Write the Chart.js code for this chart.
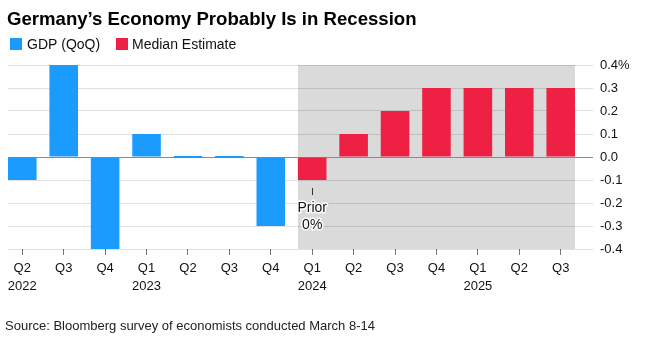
<!DOCTYPE html>
<html>
<head>
<meta charset="utf-8">
<script src="https://cdn.jsdelivr.net/npm/chart.js@4.4.1/dist/chart.umd.min.js"></script>
<style>
  html, body { margin: 0; padding: 0; background: #fff; }
  #wrap { width: 645px; height: 344px; position: relative; }
</style>
</head>
<body>
<div id="wrap"><canvas id="chart"></canvas></div>
<script>
// quarters along the bottom, year shown under the first quarter of each year
var quarters = ['Q2', 'Q3', 'Q4', 'Q1', 'Q2', 'Q3', 'Q4', 'Q1', 'Q2', 'Q3', 'Q4', 'Q1', 'Q2', 'Q3'];
var years = ['2022', '', '', '2023', '', '', '', '2024', '', '', '', '2025', '', ''];
// GDP (QoQ), Q2 2022 - Q4 2023
var gdp = [-0.1, 0.4, -0.4, 0.1, 0.0, 0.0, -0.3];
// median estimate, Q1 2024 - Q3 2025
var estimate = [-0.1, 0.1, 0.2, 0.3, 0.3, 0.3, 0.3];
var yTicks = [0.4, 0.3, 0.2, 0.1, 0.0, -0.1, -0.2, -0.3, -0.4];

var BLUE = '#1b9bfd';
var RED = '#ee2145';
var FONT = '"Liberation Sans", Arial, sans-serif';

var gdpData = gdp.map(function (v, i) { return { x: i, y: v }; });
var estData = estimate.map(function (v, i) { return { x: i + gdp.length, y: v }; });

var decor = {
  id: 'decor',
  beforeDraw: function (chart) {
    var ctx = chart.ctx;
    var area = chart.chartArea;
    ctx.save();
    ctx.fillStyle = '#fff';
    ctx.fillRect(0, 0, chart.width, chart.height);
    // forecast shading behind the estimate bars
    var bars = chart.getDatasetMeta(1).data;
    var first = bars[0], last = bars[bars.length - 1];
    var x0 = first.x - first.width / 2;
    var x1 = last.x + last.width / 2;
    ctx.fillStyle = '#dadada';
    ctx.fillRect(x0, area.top, x1 - x0, area.bottom - area.top);
    ctx.restore();
  },
  afterDatasetsDraw: function (chart) {
    var ctx = chart.ctx;
    var xs = chart.scales.x, ys = chart.scales.y;
    var cx = xs.getPixelForValue(gdp.length);
    var yb = ys.getPixelForValue(estimate[0]);
    ctx.save();
    ctx.strokeStyle = '#333';
    ctx.lineWidth = 1;
    ctx.beginPath();
    ctx.moveTo(Math.round(cx) + 0.5, yb + 8);
    ctx.lineTo(Math.round(cx) + 0.5, yb + 15);
    ctx.stroke();
    ctx.font = '14px ' + FONT;
    ctx.textAlign = 'center';
    ctx.textBaseline = 'middle';
    ctx.lineWidth = 3;
    ctx.strokeStyle = '#fff';
    ctx.lineJoin = 'round';
    ctx.fillStyle = '#111';
    ['Prior', '0%'].forEach(function (t, i) {
      var y = yb + 28 + i * 17;
      ctx.strokeText(t, cx, y);
      ctx.fillText(t, cx, y);
    });
    ctx.restore();
  },
  afterDraw: function (chart) {
    var ctx = chart.ctx;
    ctx.save();
    ctx.textBaseline = 'alphabetic';
    ctx.textAlign = 'left';
    ctx.fillStyle = '#000';
    ctx.font = 'bold 18.6px ' + FONT;
    ctx.fillText('Germany\u2019s Economy Probably Is in Recession', 7, 25);
    // legend
    ctx.font = '14px ' + FONT;
    ctx.fillStyle = BLUE;
    ctx.fillRect(10, 38, 12, 12);
    ctx.fillStyle = '#111';
    ctx.fillText('GDP (QoQ)', 27, 49);
    ctx.fillStyle = RED;
    ctx.fillRect(116, 38, 12, 12);
    ctx.fillStyle = '#111';
    ctx.fillText('Median Estimate', 132, 49);
    // source
    ctx.font = '13px ' + FONT;
    ctx.fillStyle = '#222';
    ctx.fillText('Source: Bloomberg survey of economists conducted March 8-14', 5, 330);
    ctx.restore();
  }
};

new Chart(document.getElementById('chart'), {
  type: 'bar',
  data: {
    datasets: [
      { label: 'GDP (QoQ)', data: gdpData, backgroundColor: BLUE, minBarLength: 2 },
      { label: 'Median Estimate', data: estData, backgroundColor: RED }
    ]
  },
  options: {
    responsive: true,
    maintainAspectRatio: false,
    animation: false,
    layout: { padding: { left: 8, top: 65, right: 0, bottom: 0 } },
    datasets: { bar: { grouped: false, categoryPercentage: 1, barPercentage: 0.69 } },
    plugins: { legend: { display: false }, title: { display: false }, tooltip: { enabled: false } },
    scales: {
      x: {
        type: 'linear',
        offset: false,
        min: -0.345,
        max: quarters.length - 1 + 0.345,
        afterBuildTicks: function (scale) {
          scale.ticks = quarters.map(function (q, i) { return { value: i }; });
        },
        afterFit: function (scale) { scale.height = 95; },
        border: { display: false },
        grid: { offset: false, drawOnChartArea: false, drawTicks: true, tickLength: 6, color: '#777' },
        ticks: {
          autoSkip: false,
          maxRotation: 0,
          padding: 4,
          color: '#111',
          font: { family: FONT, size: 13, lineHeight: 1.4 },
          callback: function (v, i) { return [quarters[i], years[i]]; }
        }
      },
      y: {
        position: 'right',
        min: -0.4,
        max: 0.4,
        afterBuildTicks: function (scale) {
          scale.ticks = yTicks.map(function (v) { return { value: v }; });
        },
        afterFit: function (scale) { scale.width = 70; },
        border: { display: false },
        grid: {
          tickLength: 18,
          lineWidth: 1,
          color: function (c) { return c.tick && Math.abs(c.tick.value) < 1e-9 ? '#8a8a8a' : 'rgba(0,0,0,0.12)'; }
        },
        ticks: {
          padding: 7,
          color: '#111',
          font: { family: FONT, size: 13 },
          callback: function (v) {
            if (Math.abs(v - 0.4) < 1e-9) return '0.4%';
            return (Math.round(v * 10) / 10).toFixed(1);
          }
        }
      }
    }
  },
  plugins: [decor]
});
</script>
</body>
</html>
